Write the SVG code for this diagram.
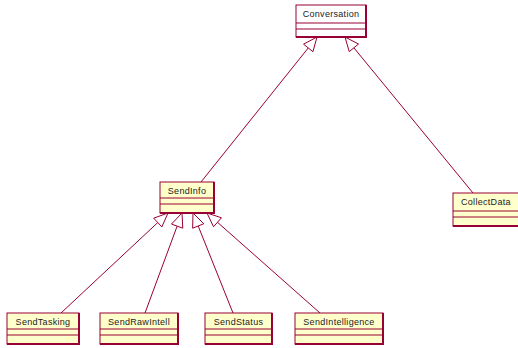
<svg xmlns="http://www.w3.org/2000/svg" width="518" height="348" viewBox="0 0 518 348">
<style>
.box{fill:#FFFFCC;stroke:#990033;stroke-width:1}
.white{fill:#FFFFFF}
.sh{stroke:#990033;stroke-width:2;fill:none}
.div{stroke:#990033;stroke-width:1;fill:none}
.t{font-family:"Liberation Sans",Arial,sans-serif;font-size:9px;fill:#222;letter-spacing:0.3px}
.c{stroke:#990033;stroke-width:1;fill:none}
.head{fill:#FFFFFF;stroke:#990033;stroke-width:1}
</style>
<rect width="518" height="348" fill="#FFFFFF"/>
<g id="connectors">
<line class="c" x1="201" y1="182" x2="308.25" y2="47.93"/>
<line class="c" x1="473" y1="193" x2="353.88" y2="47.82"/>
<line class="c" x1="61" y1="313" x2="157.77" y2="222.56"/>
<line class="c" x1="145" y1="313" x2="177.14" y2="226.13"/>
<line class="c" x1="233" y1="313" x2="198.2" y2="226"/>
<line class="c" x1="320" y1="313" x2="217.48" y2="222.28"/>
<polygon class="head" points="317,37 312.93,51.68 303.57,44.18"/>
<polygon class="head" points="345,37 358.52,44.02 349.24,51.63"/>
<polygon class="head" points="168,213 161.87,226.94 153.68,218.18"/>
<polygon class="head" points="182,213 182.77,228.21 171.51,224.05"/>
<polygon class="head" points="193,213 203.77,223.77 192.63,228.23"/>
<polygon class="head" points="207,213 221.46,217.79 213.5,226.77"/>
</g>
<g id="Conversation">
<rect class="box white" x="296" y="5" width="70" height="32"/>
<polyline class="sh" points="296,37 366,37 366,5"/>
<line class="div" x1="296" y1="23" x2="366" y2="23"/>
<line class="div" x1="296" y1="29" x2="366" y2="29"/>
<text class="t" x="331" y="17" text-anchor="middle">Conversation</text>
</g>
<g id="SendInfo">
<rect class="box" x="160" y="182" width="54" height="31"/>
<polyline class="sh" points="160,213 214,213 214,182"/>
<line class="div" x1="160" y1="198" x2="214" y2="198"/>
<line class="div" x1="160" y1="204" x2="214" y2="204"/>
<text class="t" x="187" y="193.5" text-anchor="middle">SendInfo</text>
</g>
<g id="CollectData">
<rect class="box" x="453" y="193" width="70" height="33"/>
<polyline class="sh" points="453,226 523,226"/>
<line class="div" x1="453" y1="211" x2="523" y2="211"/>
<line class="div" x1="453" y1="217" x2="523" y2="217"/>
<text class="t" x="461" y="205">CollectData</text>
</g>
<g id="SendTasking">
<rect class="box" x="7" y="313" width="72" height="31"/>
<polyline class="sh" points="7,344 79,344 79,313"/>
<line class="div" x1="7" y1="329" x2="79" y2="329"/>
<line class="div" x1="7" y1="335" x2="79" y2="335"/>
<text class="t" x="43" y="324.5" text-anchor="middle">SendTasking</text>
</g>
<g id="SendRawIntell">
<rect class="box" x="100" y="313" width="78" height="31"/>
<polyline class="sh" points="100,344 178,344 178,313"/>
<line class="div" x1="100" y1="329" x2="178" y2="329"/>
<line class="div" x1="100" y1="335" x2="178" y2="335"/>
<text class="t" x="139" y="324.5" text-anchor="middle">SendRawIntell</text>
</g>
<g id="SendStatus">
<rect class="box" x="205" y="313" width="67" height="31"/>
<polyline class="sh" points="205,344 272,344 272,313"/>
<line class="div" x1="205" y1="329" x2="272" y2="329"/>
<line class="div" x1="205" y1="335" x2="272" y2="335"/>
<text class="t" x="238.5" y="324.5" text-anchor="middle">SendStatus</text>
</g>
<g id="SendIntelligence">
<rect class="box" x="295" y="313" width="88" height="31"/>
<polyline class="sh" points="295,344 383,344 383,313"/>
<line class="div" x1="295" y1="329" x2="383" y2="329"/>
<line class="div" x1="295" y1="335" x2="383" y2="335"/>
<text class="t" x="339" y="324.5" text-anchor="middle">SendIntelligence</text>
</g>
</svg>
